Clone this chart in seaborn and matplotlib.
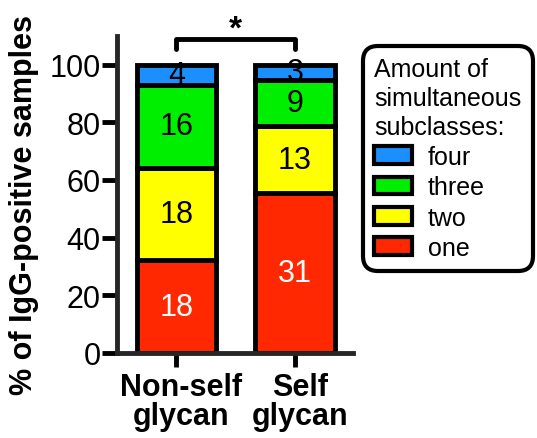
import pandas as pd
import numpy as np
import matplotlib
matplotlib.use("Agg")
import matplotlib.pyplot as plt
import matplotlib.transforms as mtransforms
from matplotlib.patches import Patch
import seaborn as sns

## data (sample counts)
groups = ["Non-self\nglycan", "Self\nglycan"]
subclasses = ["one", "two", "three", "four"]
one = [18, 31]
two = [18, 13]
three = [16, 9]
four = [4, 3]
colors = {"one": "#FF2800", "two": "#FFFF00", "three": "#00EE00", "four": "#1C8FFF"}
text_col = {"one": "white", "two": "black", "three": "black", "four": "black"}

sns.set_style("ticks")
plt.rcParams["font.family"] = ["Liberation Sans", "DejaVu Sans"]
plt.rcParams["text.color"] = "black"
plt.rcParams["axes.labelcolor"] = "black"
plt.rcParams["xtick.color"] = "black"
plt.rcParams["ytick.color"] = "black"

df = pd.DataFrame({"group": groups, "one": one, "two": two, "three": three, "four": four})
totals = df[subclasses].sum(axis=1)
pct = df[subclasses].div(totals, axis=0) * 100

fig = plt.figure(figsize=(5.37, 4.39), dpi=100)
ax = fig.add_axes([0.218, 0.194, 0.4395, 0.722])

bottom = np.zeros(len(groups))
for s in subclasses:
    sns.barplot(x=df["group"], y=pct[s], bottom=bottom, color=colors[s], saturation=1,
                edgecolor="black", linewidth=3.5, width=0.667, ax=ax, zorder=2)
    # counts in the middle of each segment
    for i in range(len(groups)):
        ax.text(i, bottom[i] + pct[s][i] / 2, str(df[s][i]), ha="center", va="center",
                fontsize=22, color=text_col[s], zorder=3)
    bottom = bottom + pct[s].values

ax.set_xlim(-0.5, 1.49)
ax.set_ylim(0, 110)
ax.set_yticks([0, 20, 40, 60, 80, 100])
ax.set_xlabel("")
ax.set_ylabel("% of IgG-positive samples", fontsize=22, fontweight="bold")
ax.yaxis.set_label_coords(-0.33, 0.47)
ax.tick_params(axis="y", labelsize=22, width=3.5, length=11, pad=1)
ax.tick_params(axis="x", labelsize=22, width=3.5, length=10, pad=4)
shift = mtransforms.ScaledTranslation(5 / 100, 0, fig.dpi_scale_trans)
for lab in ax.get_xticklabels():
    lab.set_fontweight("bold")
    lab.set_linespacing(0.95)
    lab.set_transform(lab.get_transform() + shift)
ax.spines["left"].set_linewidth(3.5)
ax.spines["bottom"].set_linewidth(3.5)
sns.despine(ax=ax)

# significance bracket
ax.plot([0, 0, 1, 1], [105.5, 109, 109, 105.5], color="black", lw=3.5, clip_on=False)
ax.text(0.5, 112.5, "*", ha="center", va="center", fontsize=24, fontweight="bold", clip_on=False)

handles = [Patch(facecolor=colors[s], edgecolor="black", linewidth=3, label=s)
           for s in ["four", "three", "two", "one"]]
leg = fig.legend(handles=handles, title="Amount of\nsimultaneous\nsubclasses:",
                 loc="upper left", bbox_to_anchor=(363 / 537, 1 - 47 / 439),
                 borderaxespad=0, fontsize=18, title_fontsize=18, alignment="left",
                 frameon=True, fancybox=True, handlelength=1.5, handleheight=0.72,
                 handletextpad=0.65, labelspacing=0.25, borderpad=0.45)
leg.get_title().set_linespacing(1.25)
frame = leg.get_frame()
frame.set_edgecolor("black")
frame.set_linewidth(3)
frame.set_alpha(1)
frame.set_boxstyle("round", pad=0, rounding_size=0.6)

fig.savefig("out.png", dpi=100)
